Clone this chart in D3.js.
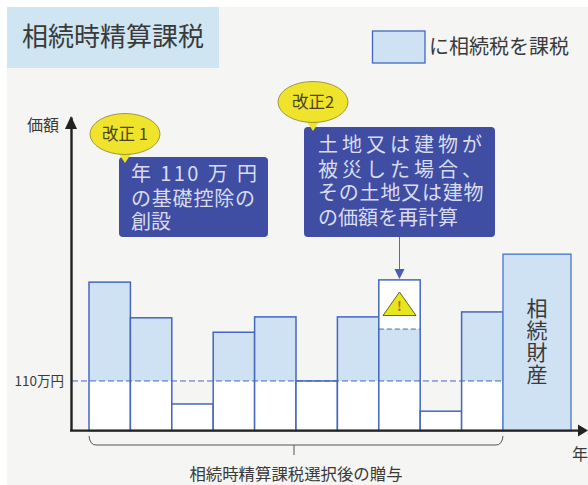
<!DOCTYPE html>
<html>
<head>
<meta charset="utf-8">
<script src="https://cdnjs.cloudflare.com/ajax/libs/d3/7.8.5/d3.min.js"></script>
<style>
	html, body { margin: 0; padding: 0; background: #fff; }
	svg text { font-family: "Noto Sans CJK JP", sans-serif; }
</style>
</head>
<body>
<div id="my_dataviz"></div>
<script>
// 贈与額（万円）
var years = [1, 2, 3, 4, 5, 6, 7, 8, 9, 10];
var gifts = [329, 250, 59, 218, 252, 110, 252, 334, 43, 263];
var recalculated = [null, null, null, null, null, null, null, 225, null, null];
var totalValue = 391;
var exemption = 110;
var titleText = "相続時精算課税";
var legendText = "に相続税を課税";
var yLabel = "価額";
var xLabel = "年";
var bracketLabel = "相続時精算課税選択後の贈与";
var totalLabel = "相続財産";
var note1 = ["年 110 万 円", "の基礎控除の", "創設"];
var note2 = ["土地又は建物が", "被災した場合、", "その土地又は建物", "の価額を再計算"];

var blue = "#4467bd", lightBlue = "#cfe2f3", navy = "#3f4ea3", ink = "#3a3a3a", yellow = "#efe32b";

var svg = d3.select("#my_dataviz").append("svg")
	.attr("width", 588)
	.attr("height", 485)
	.style("display", "block");

svg.append("rect").attr("x", 7).attr("y", 7).attr("width", 581).attr("height", 478).attr("fill", "#f5f5f3");

// スケール
var x = d3.scaleLinear().domain([1, 11]).range([89, 503]);
var y = d3.scaleLinear().domain([0, 695]).range([430.6, 117]);

// タイトル
svg.append("rect").attr("x", 7).attr("y", 7).attr("width", 212).attr("height", 61).attr("fill", "#cfe5f2");
svg.append("text").attr("x", 22).attr("y", 37).attr("dy", "0.36em")
	.style("font-size", "26px").attr("fill", ink).text(titleText);

// 凡例
svg.append("rect").attr("x", 372.5).attr("y", 31).attr("width", 52.5).attr("height", 32)
	.attr("fill", lightBlue).attr("stroke", blue).attr("stroke-width", 1.3);
svg.append("text").attr("x", 429).attr("y", 47).attr("dy", "0.36em")
	.style("font-size", "20px").attr("fill", ink).text(legendText);

// 棒
var bars = svg.append("g");
years.forEach(function(d, i) {
	var x0 = x(d), w = x(d + 1) - x(d);
	// 下の白い部分
	bars.append("rect").attr("x", x0).attr("width", w)
		.attr("y", y(Math.min(gifts[i], exemption)))
		.attr("height", y(0) - y(Math.min(gifts[i], exemption)))
		.attr("fill", "#fff");
	if (recalculated[i] !== null) {
		// 再計算された部分
		bars.append("rect").attr("x", x0).attr("width", w)
			.attr("y", y(gifts[i])).attr("height", y(recalculated[i]) - y(gifts[i])).attr("fill", "#fff");
		bars.append("rect").attr("x", x0).attr("width", w)
			.attr("y", y(recalculated[i])).attr("height", y(exemption) - y(recalculated[i])).attr("fill", lightBlue);
		bars.append("line").attr("x1", x0).attr("x2", x0 + w)
			.attr("y1", y(recalculated[i])).attr("y2", y(recalculated[i]))
			.attr("stroke", blue).attr("stroke-dasharray", "5,3");
	} else if (gifts[i] > exemption) {
		bars.append("rect").attr("x", x0).attr("width", w)
			.attr("y", y(gifts[i])).attr("height", y(exemption) - y(gifts[i])).attr("fill", lightBlue);
	}
	bars.append("rect").attr("x", x0).attr("width", w)
		.attr("y", y(gifts[i])).attr("height", y(0) - y(gifts[i]))
		.attr("fill", "none").attr("stroke", blue).attr("stroke-width", 1.5);
});

// 相続財産
bars.append("rect").attr("x", x(11)).attr("width", 68)
	.attr("y", y(totalValue)).attr("height", y(0) - y(totalValue))
	.attr("fill", lightBlue).attr("stroke", "#5a86d0").attr("stroke-width", 1.5);
svg.append("text")
	.attr("x", 537).attr("y", 342)
	.attr("text-anchor", "middle")
	.attr("dominant-baseline", "central")
	.style("writing-mode", "vertical-rl")
	.style("font-size", "21px").style("letter-spacing", "1px")
	.attr("fill", ink)
	.text(totalLabel);

// 110万円の破線
svg.append("line").attr("x1", 72).attr("x2", x(11))
	.attr("y1", y(exemption)).attr("y2", y(exemption))
	.attr("stroke", blue).attr("stroke-width", 1).attr("stroke-dasharray", "6,3");

// Y軸
var yAxis = svg.append("g").attr("transform", "translate(71,0)")
	.call(d3.axisLeft(y).tickValues([exemption]).tickSize(0).tickPadding(7)
		.tickFormat(function(d) { return d + "万円"; }));
yAxis.attr("font-family", null).attr("font-size", null);
yAxis.select(".domain").attr("stroke", "#222").attr("stroke-width", 2.4);
yAxis.selectAll("text").style("font-size", "13.5px").attr("fill", ink);
svg.append("path").attr("d", d3.line()([[71, 116], [65, 129], [77, 129]]) + "Z").attr("fill", "#222");
svg.append("text").attr("x", 27).attr("y", 125).attr("dy", "0.36em")
	.style("font-size", "16px").attr("fill", ink).text(yLabel);

// X軸
svg.append("line").attr("x1", 70).attr("x2", 582).attr("y1", y(0)).attr("y2", y(0))
	.attr("stroke", "#222").attr("stroke-width", 2.4);
svg.append("path").attr("d", d3.line()([[588, y(0)], [578, y(0) - 6], [578, y(0) + 6]]) + "Z").attr("fill", "#222");
svg.append("text").attr("x", 572).attr("y", 454).attr("dy", "0.36em")
	.style("font-size", "16px").attr("fill", ink).text(xLabel);

// 括弧
var bx0 = x(1), bx1 = x(11), bm = (bx0 + bx1) / 2 - 2;
var br = d3.path();
br.moveTo(bx0, 436);
br.quadraticCurveTo(bx0 + 1, 445, bx0 + 7, 445);
br.lineTo(bx1 - 7, 445);
br.quadraticCurveTo(bx1 - 1, 445, bx1, 436);
br.moveTo(bm, 445);
br.lineTo(bm, 455);
svg.append("path").attr("d", br.toString()).attr("fill", "none").attr("stroke", "#555").attr("stroke-width", 1);
svg.append("text").attr("x", 296).attr("y", 474).attr("dy", "0.36em").attr("text-anchor", "middle")
	.style("font-size", "16.4px").attr("fill", ink).text(bracketLabel);

// 吹き出し
function bubble(cx, cy, tipY, label) {
	svg.append("path")
		.attr("d", d3.line()([[cx - 8, cy + 17], [cx, tipY], [cx + 8, cy + 17]]) + "Z")
		.attr("fill", yellow);
	svg.append("ellipse").attr("cx", cx).attr("cy", cy).attr("rx", 35).attr("ry", 20.5)
		.attr("fill", yellow).attr("stroke", "#8c8430").attr("stroke-width", 0.8);
	svg.append("text").attr("x", cx).attr("y", cy).attr("dy", "0.36em").attr("text-anchor", "middle")
		.style("font-size", "16.5px").attr("fill", "#4a4320").text(label);
}

// 説明の箱（行はtspanで1つのtextにまとめる）
function noteBox(bx, by, bw, bh, lines, lineY, spacing, pad) {
	svg.append("rect").attr("x", bx).attr("y", by).attr("width", bw).attr("height", bh).attr("rx", 4)
		.attr("fill", navy);
	var t = svg.append("text").style("font-size", "20px").attr("fill", "#d9dcf0");
	lines.forEach(function(line, i) {
		t.append("tspan").attr("x", bx + pad).attr("y", lineY[i]).attr("dy", "0.36em")
			.style("letter-spacing", spacing[i] + "px").text(line);
	});
}

noteBox(119, 157, 149, 80, note1, [174, 199, 222], [2.4, 0.8, 0], 12);
noteBox(304, 127, 191, 110, note2, [145, 170, 193, 218], [4, 4, 0.8, 0], 14);
bubble(125, 134, 163, "改正 1");
bubble(313, 102, 131, "改正2");

// 矢印
svg.append("line").attr("x1", 399.5).attr("x2", 399.5).attr("y1", 237).attr("y2", 272)
	.attr("stroke", "#5a6aa8").attr("stroke-width", 1);
svg.append("path").attr("d", d3.line()([[399.5, y(gifts[7]) - 1], [394.5, 269], [404.5, 269]]) + "Z").attr("fill", "#4a5cb5");

// 警告
svg.append("path").attr("d", d3.line()([[399.5, 292], [383, 315.5], [416, 315.5]]) + "Z")
	.attr("fill", "#e6e61e").attr("stroke", "#55551a").attr("stroke-width", 0.9);
svg.append("text").attr("x", 399.5).attr("y", 306).attr("dy", "0.36em").attr("text-anchor", "middle")
	.style("font-size", "13px").style("font-weight", "bold").attr("fill", "#c8641e").text("!");
</script>
</body>
</html>
